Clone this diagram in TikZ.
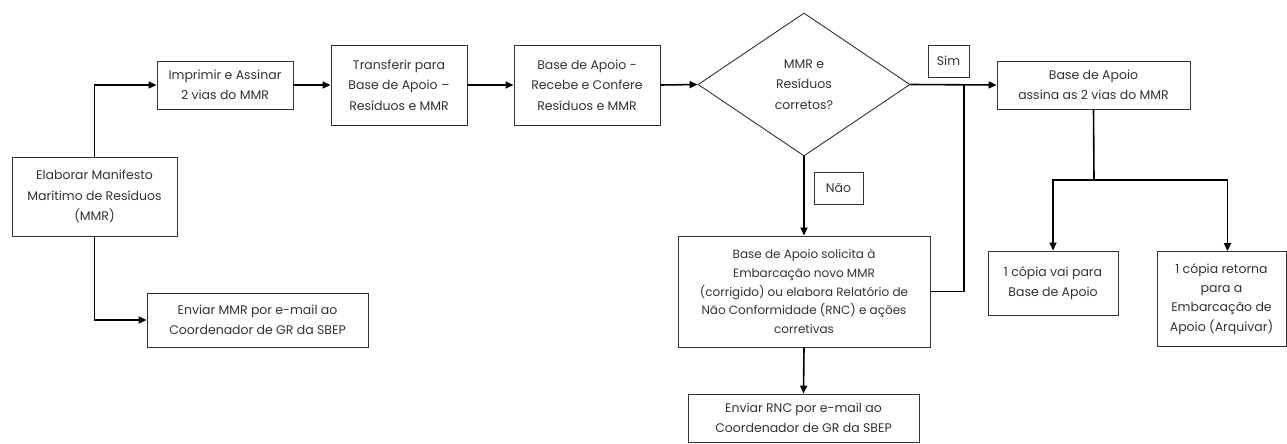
\documentclass[tikz,border=0pt]{standalone}
\usepackage{fontspec}
\setmainfont{Poppins}
\usetikzlibrary{shapes.geometric,arrows.meta}
\definecolor{txt}{HTML}{333333}
\tikzset{
  box/.style={draw=txt, line width=0.9pt, text=txt, align=center, inner sep=2pt,
    font=\fontsize{12.5}{20.5}\selectfont},
  lbl/.style={draw=txt, line width=0.9pt, text=txt, inner sep=4pt,
    font=\fontsize{12.5}{20.5}\selectfont},
  arr/.style={line width=1.6pt, -{Triangle[length=8pt,width=7pt]}},
  ln/.style={line width=1.6pt},
}
\begin{document}
\begin{tikzpicture}[x=1pt,y=-1pt]
\useasboundingbox (0,0) rectangle (1287,444);
\node[box, minimum width=165pt, minimum height=79pt] (elab) at (94.5,196.5) {Elaborar Manifesto\\Marítimo de Resíduos\\(MMR)};
\node[box, minimum width=136pt, minimum height=48pt] (imp) at (225,85) {Imprimir e Assinar\\2 vias do MMR};
\node[box, minimum width=136pt, minimum height=80pt] (trans) at (399,85) {Transferir para\\Base de Apoio –\\Resíduos e MMR};
\node[box, minimum width=146pt, minimum height=80pt] (rec) at (587,85) {Base de Apoio -\\Recebe e Confere\\Resíduos e MMR};
\node[box, diamond, minimum width=212pt, minimum height=143pt, aspect=1.48, inner sep=0pt] (dia) at (804,84.5) {MMR e\\Resíduos\\corretos?};
\node[lbl, minimum width=41pt, minimum height=32pt] (sim) at (948.5,61) {Sim};
\node[lbl, minimum width=49pt, minimum height=32pt] (nao) at (838.5,188) {Não};
\node[box, minimum width=193pt, minimum height=48pt] (ass) at (1093.5,85) {Base de Apoio\\assina as 2 vias do MMR};
\node[box, minimum width=252pt, minimum height=111pt, font=\fontsize{12}{18.7}\selectfont] (sol) at (804,291.5) {Base de Apoio solicita à\\Embarcação novo MMR\\(corrigido) ou elabora Relatório de\\Não Conformidade (RNC) e ações\\corretivas};
\node[box, minimum width=221pt, minimum height=54pt] (env) at (257.5,320) {Enviar MMR por e-mail ao\\Coordenador de GR da SBEP};
\node[box, minimum width=231pt, minimum height=48pt] (rnc) at (803.5,418) {Enviar RNC por e-mail ao\\Coordenador de GR da SBEP};
\node[box, minimum width=130pt, minimum height=64pt] (vai) at (1053,283) {1 cópia vai para\\Base de Apoio};
\node[box, minimum width=129pt, minimum height=95pt, font=\fontsize{12.5}{19.3}\selectfont] (ret) at (1221.5,299) {1 cópia retorna\\para a\\Embarcação de\\Apoio (Arquivar)};
\coordinate (j) at (964,85);
\coordinate (split) at (1094,180);
\draw[arr] (elab.north) |- (imp.west);
\draw[arr] (elab.south) |- (env.west);
\draw[arr] (imp.east) -- (trans.west);
\draw[arr] (trans.east) -- (rec.west);
\draw[arr] (rec.east) -- (dia.west);
\draw[arr] (dia.east) -- (ass.west);
\draw[arr] (dia.south) -- (sol.north);
\draw[ln] (sol.east) -| (j);
\draw[arr] (sol.south) -- (rnc.north);
\draw[ln] (ass.south) -- (split);
\draw[arr] (split) -| (vai.north);
\draw[arr] (split) -| ([xshift=6pt]ret.north);
\end{tikzpicture}
\end{document}
